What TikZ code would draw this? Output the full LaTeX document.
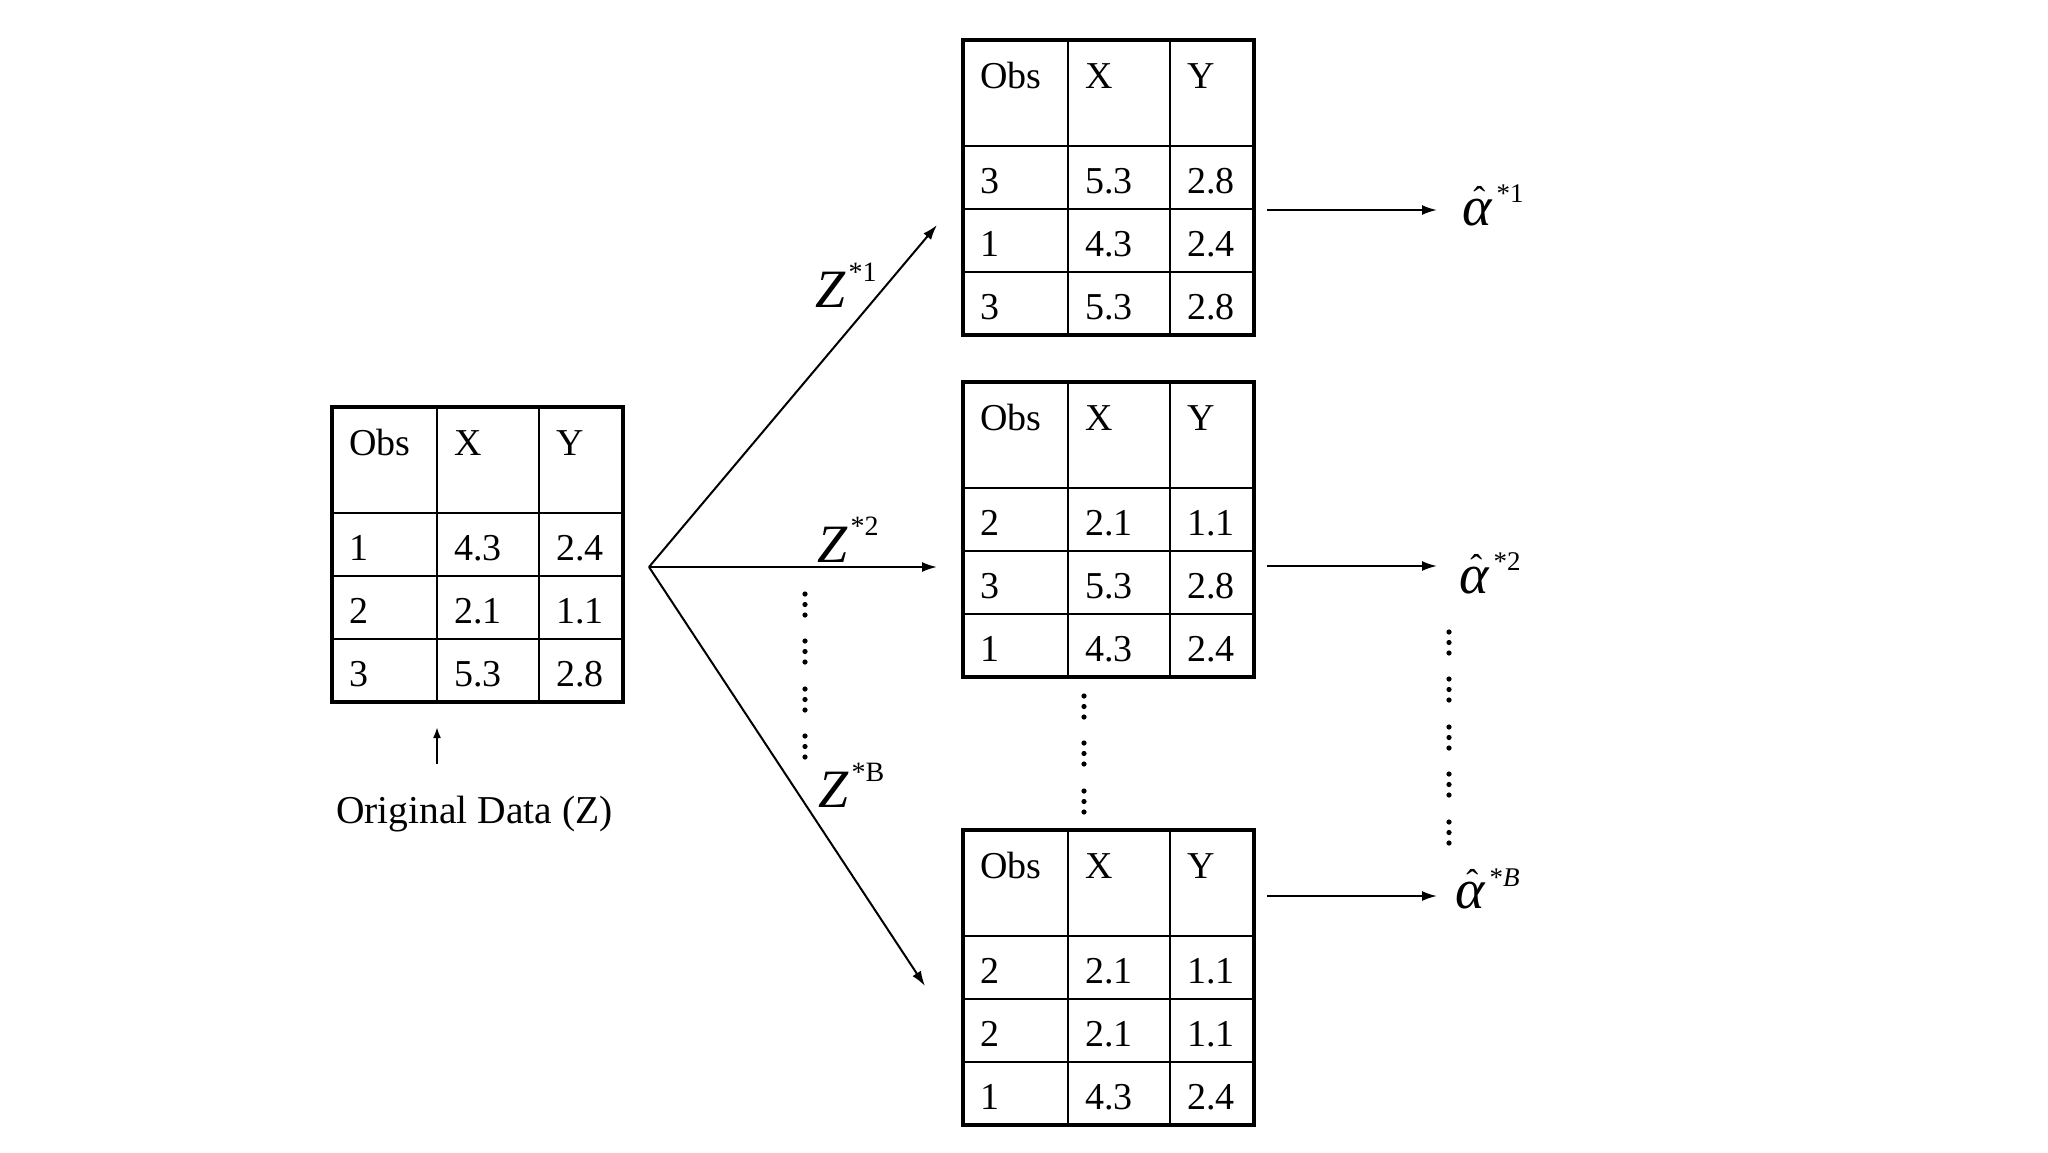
\documentclass[tikz,border=0pt]{standalone}
\usepackage{fontspec}
\setmainfont{Liberation Serif}
\usetikzlibrary{arrows.meta}
\tikzset{
  tablebox/.style={draw, line width=4pt, minimum width=291pt, minimum height=295pt,
    inner sep=0pt, outer sep=0pt, anchor=north west},
  gridline/.style={line width=1.8pt},
  cell/.style={anchor=base west, inner sep=0pt, font=\fontsize{38}{40}\selectfont},
  conn/.style={line width=2pt, -{Latex[length=15pt,width=10pt]}},
  smallconn/.style={line width=2pt, -{Latex[length=11pt,width=8pt]}},
  zlabel/.style={anchor=base west, inner sep=0pt, font=\fontsize{54}{56}\selectfont},
  alabel/.style={anchor=base west, inner sep=0pt, font=\fontsize{56}{58}\selectfont},
}
\newcommand{\bsTable}[4]{%
  \begin{scope}[shift={(#2,#3)}]
    \draw[gridline] (105,0) -- (105,295);
    \draw[gridline] (207,0) -- (207,295);
    \draw[gridline] (0,106) -- (291,106);
    \draw[gridline] (0,169) -- (291,169);
    \draw[gridline] (0,232) -- (291,232);
    \node[tablebox] (#1) at (0,0) {};
    \node[cell] (#1-h1) at (17,48) {Obs};
    \node[cell] (#1-h2) at (122,48) {X};
    \node[cell] (#1-h3) at (224,48) {Y};
    \foreach \a/\b/\c [count=\i] in {#4} {
      \pgfmathsetmacro\yy{106+63*(\i-1)+47}
      \node[cell] (#1-r\i-1) at (17,\yy) {\a};
      \node[cell] (#1-r\i-2) at (122,\yy) {\b};
      \node[cell] (#1-r\i-3) at (224,\yy) {\c};
    }
  \end{scope}}
\newcommand{\ahat}{\ooalign{\textit{α}\cr\hidewidth\kern4pt\raisebox{14pt}{\fontsize{36}{36}\selectfont ˆ}\hidewidth\cr}}
\newcommand{\dotgroup}[2]{%
  \fill (#1,#2) circle (2.6pt);
  \fill (#1,#2+10.5) circle (2.6pt);
  \fill (#1,#2+21) circle (2.6pt);}
\begin{document}
\begin{tikzpicture}[x=1pt,y=-1pt]
  \useasboundingbox (0,0) rectangle (2048,1152);

  % tables
  \bsTable{orig}{332}{407}{1/4.3/2.4, 2/2.1/1.1, 3/5.3/2.8}
  \bsTable{boot1}{963}{40}{3/5.3/2.8, 1/4.3/2.4, 3/5.3/2.8}
  \bsTable{boot2}{963}{382}{2/2.1/1.1, 3/5.3/2.8, 1/4.3/2.4}
  \bsTable{bootB}{963}{830}{2/2.1/1.1, 2/2.1/1.1, 1/4.3/2.4}

  % original data label and arrow
  \node[cell, font=\fontsize{39.5}{41}\selectfont] (origlabel) at (336,823) {Original Data (Z)};
  \coordinate (upfrom) at (437,764);
  \coordinate (upto) at (437,727);
  \draw[smallconn] (upfrom) -- (upto);

  % sampling arrows
  \coordinate (split) at (649,567);
  \coordinate (tip1) at (937,225);
  \coordinate (tip2) at (937,567);
  \coordinate (tip3) at (925,986);
  \draw[conn] (split) -- (tip1);
  \draw[conn] (split) -- (tip2);
  \draw[conn] (split) -- (tip3);

  \node[zlabel] (z1) at (815,307) {\textit{Z}\kern3pt\raisebox{26pt}{\fontsize{28}{29}\selectfont *1}};
  \node[zlabel] (z2) at (817,562) {\textit{Z}\kern3pt\raisebox{27pt}{\fontsize{28}{29}\selectfont *2}};
  \node[zlabel] (zB) at (818,807) {\textit{Z}\kern3pt\raisebox{26pt}{\fontsize{28}{29}\selectfont *B}};

  % estimate arrows
  \coordinate (s1) at (1267,210);
  \coordinate (e1) at (1437,210);
  \coordinate (s2) at (1267,566);
  \coordinate (e2) at (1437,566);
  \coordinate (s3) at (1267,896);
  \coordinate (e3) at (1437,896);
  \draw[conn] (s1) -- (e1);
  \draw[conn] (s2) -- (e2);
  \draw[conn] (s3) -- (e3);

  \node[alabel] (a1) at (1462,225) {\ahat\kern4pt\raisebox{23pt}{\fontsize{27}{28}\selectfont *1}};
  \node[alabel] (a2) at (1459,593) {\ahat\kern4pt\raisebox{23pt}{\fontsize{27}{28}\selectfont *2}};
  \node[alabel] (aB) at (1455,908) {\ahat\kern4pt\raisebox{22pt}{\fontsize{27}{28}\selectfont *\textit{B}}};

  % vertical dots
  \foreach \s in {594,641,689,736} {\dotgroup{805}{\s}}
  \foreach \s in {696,743,791} {\dotgroup{1084}{\s}}
  \foreach \s in {632,679,727,774,822} {\dotgroup{1449}{\s}}
\end{tikzpicture}
\end{document}
